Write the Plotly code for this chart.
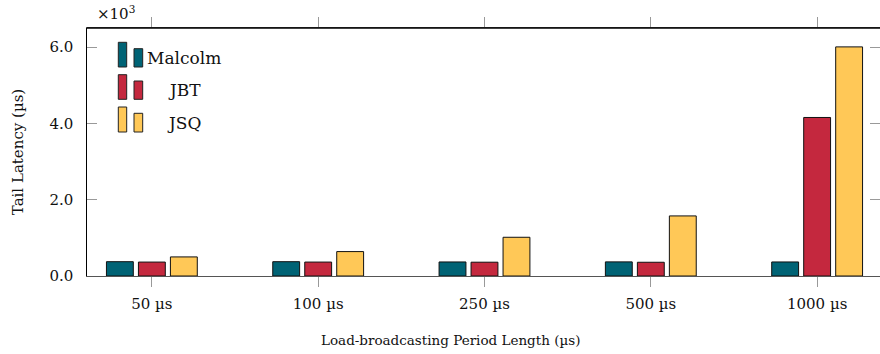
import plotly.graph_objects as go

categories = ["50 µs", "100 µs", "250 µs", "500 µs", "1000 µs"]
malcolm = [375, 375, 368, 370, 368]
jbt = [365, 365, 362, 360, 4155]
jsq = [500, 640, 1015, 1575, 6005]
series_names = ["Malcolm", "JBT", "JSQ"]
series_colors = ["#006375", "#C4283E", "#FFC857"]
y_tickvals = [0, 2000, 4000, 6000]
y_ticktext = ["0.0", "2.0", "4.0", "6.0"]

W, H = 880, 354
L, R, T, B = 87, 0, 28, 78
FONT = "DejaVu Serif"

fig = go.Figure()
for name, vals, col in zip(series_names, [malcolm, jbt, jsq], series_colors):
    fig.add_trace(go.Bar(
        x=categories, y=vals, name=name,
        marker=dict(color=col, line=dict(color="#111111", width=1)),
        showlegend=False,
    ))

def px_x(px):
    return (px - L) / (W - L - R)

def px_y(py):
    return (H - B - py) / (H - T - B)

shapes = []
annotations = []
# custom pgfplots-like legend (two small bars per entry)
legend_rows = [(42.3, 48.7, 67.0), (74.7, 81.0, 99.3), (107.0, 113.3, 132.0)]
for (top1, top2, bot), col, name in zip(legend_rows, series_colors, series_names):
    shapes.append(dict(type="rect", xref="paper", yref="paper",
                       x0=px_x(118.3), x1=px_x(126.7), y0=px_y(bot), y1=px_y(top1),
                       fillcolor=col, line=dict(color="#222", width=1)))
    shapes.append(dict(type="rect", xref="paper", yref="paper",
                       x0=px_x(134.0), x1=px_x(142.7), y0=px_y(bot), y1=px_y(top2),
                       fillcolor=col, line=dict(color="#222", width=1)))
    annotations.append(dict(text=name, xref="paper", yref="paper",
                            x=px_x(184), y=px_y((top1 + bot) / 2 + 3),
                            xanchor="center", yanchor="middle", showarrow=False,
                            font=dict(family=FONT, size=17, color="#111")))

# top border line (black)
shapes.append(dict(type="line", xref="paper", yref="paper", x0=0, x1=1, y0=1, y1=1,
                   line=dict(color="black", width=1.3)))

annotations.append(dict(text="×10<sup>3</sup>", xref="paper", yref="paper",
                        x=px_x(95), y=px_y(13), xanchor="left", yanchor="middle",
                        showarrow=False, font=dict(family=FONT, size=15, color="#111")))

# x-axis title (placed as in the reference, slightly left of the axis centre)
annotations.append(dict(text="Load-broadcasting Period Length (µs)", xref="paper", yref="paper",
                        x=px_x(450), y=px_y(340), xanchor="center", yanchor="middle",
                        showarrow=False, font=dict(family=FONT, size=13.5, color="#111")))

# invisible padding so the y tick labels sit further from the axis line
PAD = "<span style='color:rgba(0,0,0,0)'>0</span>"

fig.update_layout(
    width=W, height=H,
    margin=dict(l=L, r=R, t=T, b=B, pad=0),
    paper_bgcolor="white", plot_bgcolor="white",
    barmode="group", bargap=0.423, bargroupgap=0.16,
    font=dict(family=FONT, size=15, color="#111"),
    shapes=shapes, annotations=annotations,
    xaxis=dict(
        type="category", range=[-0.39, 4.378],
        showline=True, linecolor="#555", linewidth=1.3, mirror="ticks",
        ticks="outside", ticklen=10, tickcolor="#999", tickwidth=1,
        ticklabelstandoff=4,
        showgrid=False, zeroline=False,
    ),
    yaxis=dict(
        range=[0, 6500], tickvals=y_tickvals,
        ticktext=[t + PAD for t in y_ticktext],
        showline=True, linecolor="black", linewidth=1.3, mirror="ticks",
        ticks="inside", ticklen=10, tickcolor="#999", tickwidth=1,
        showgrid=False, zeroline=False,
        title=dict(text="Tail Latency (µs)", standoff=22,
                   font=dict(family=FONT, size=15)),
    ),
)

fig.write_html("out.html")
